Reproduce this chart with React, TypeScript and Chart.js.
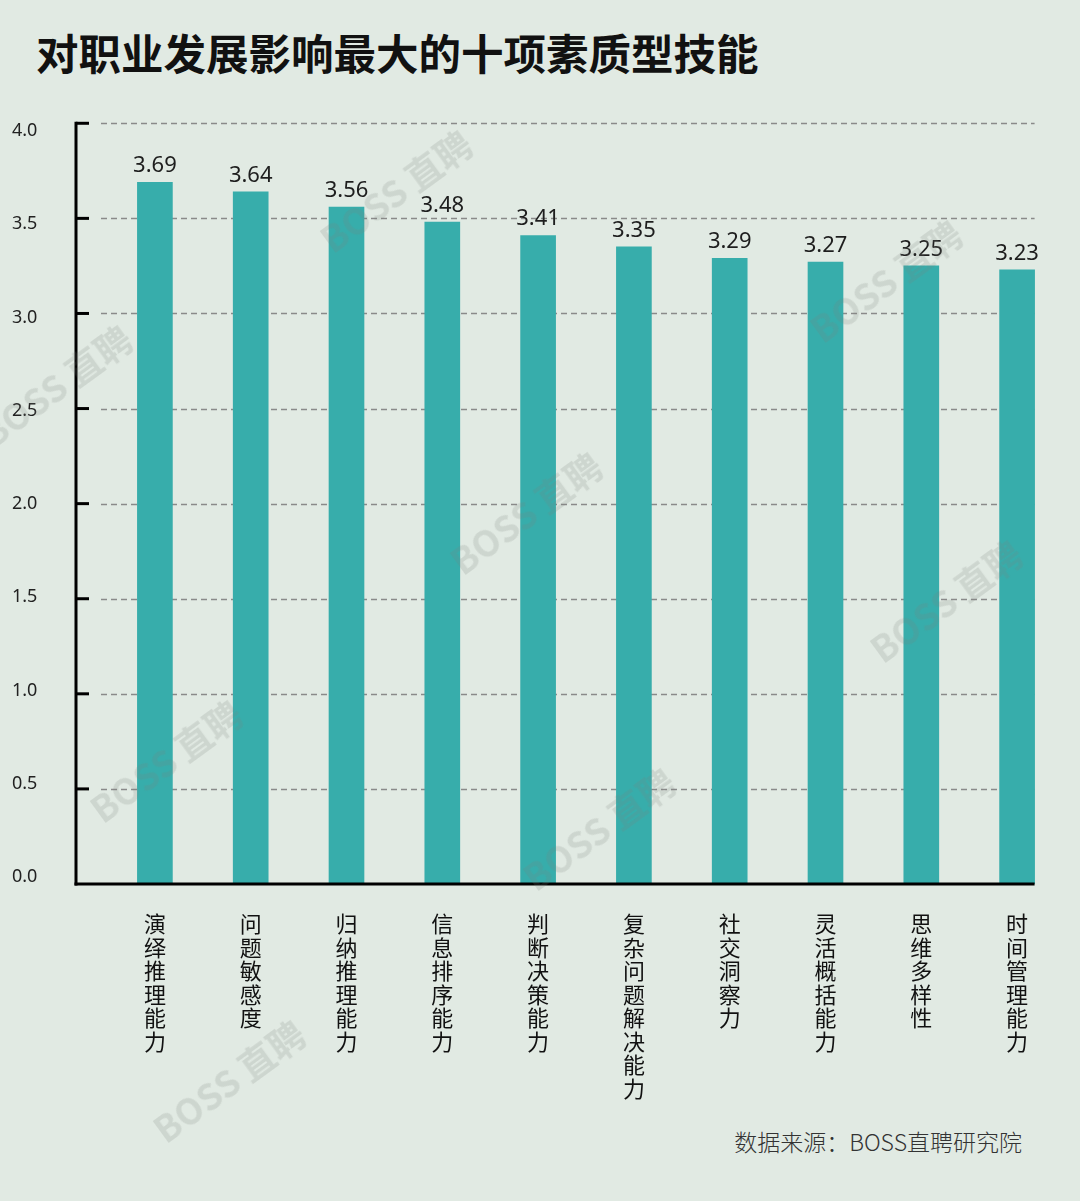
import React, { useEffect, useRef } from "react";
import { Chart, registerables } from "chart.js";

Chart.register(...registerables);

const titleText = "对职业发展影响最大的十项素质型技能";
const sourceText = "数据来源：BOSS直聘研究院";
const watermarkText = "BOSS 直聘";

const categories = [
  "演绎推理能力",
  "问题敏感度",
  "归纳推理能力",
  "信息排序能力",
  "判断决策能力",
  "复杂问题解决能力",
  "社交洞察力",
  "灵活概括能力",
  "思维多样性",
  "时间管理能力",
];
const scores = [3.69, 3.64, 3.56, 3.48, 3.41, 3.35, 3.29, 3.27, 3.25, 3.23];
const yTickValues = [0, 0.5, 1.0, 1.5, 2.0, 2.5, 3.0, 3.5, 4.0];

const watermarkSpots = [
  [395, 190],
  [55, 385],
  [525, 512],
  [885, 280],
  [945, 600],
  [165, 760],
  [598, 828],
  [228, 1080],
];

const BG = "#e1eae3";
const BAR = "#37adab";
const FONT = "'Noto Sans', 'Noto Sans CJK SC', sans-serif";
const CJK = "'Noto Sans CJK SC', 'Noto Sans', sans-serif";

const decorPlugin = {
  id: "decor",
  beforeDatasetsDraw(chart: any) {
    const { ctx } = chart;
    const y = chart.scales.y;
    const x = chart.scales.x;
    const right = x.getPixelForValue(categories.length - 1) + 17.5;
    ctx.save();
    ctx.strokeStyle = "#8a8a8a";
    ctx.lineWidth = 1.5;
    ctx.setLineDash([6, 4]);
    yTickValues.forEach((v) => {
      if (v === 0) return;
      const py = Math.round(y.getPixelForValue(v)) + 0.5;
      ctx.beginPath();
      ctx.moveTo(101, py);
      ctx.lineTo(right, py);
      ctx.stroke();
    });
    ctx.restore();
  },
  afterDatasetsDraw(chart: any) {
    const { ctx } = chart;
    const y = chart.scales.y;
    const x = chart.scales.x;
    const axisX = 76;
    const right = x.getPixelForValue(categories.length - 1) + 17.5;
    const top = y.getPixelForValue(4);
    const bottom = y.getPixelForValue(0);
    ctx.save();
    ctx.strokeStyle = "#000";
    ctx.lineWidth = 3;
    ctx.setLineDash([]);
    ctx.beginPath();
    ctx.moveTo(axisX, top - 1.5);
    ctx.lineTo(axisX, bottom + 1.5);
    ctx.stroke();
    yTickValues.forEach((v) => {
      if (v === 0) return;
      const py = y.getPixelForValue(v);
      ctx.beginPath();
      ctx.moveTo(axisX, py);
      ctx.lineTo(axisX + 13, py);
      ctx.stroke();
    });
    ctx.beginPath();
    ctx.moveTo(axisX - 1.5, bottom);
    ctx.lineTo(right, bottom);
    ctx.stroke();

    ctx.fillStyle = "#1e1e1e";
    ctx.font = `22px ${FONT}`;
    ctx.textAlign = "center";
    ctx.textBaseline = "alphabetic";
    const meta = chart.getDatasetMeta(0);
    meta.data.forEach((bar: any, i: number) => {
      ctx.fillText(scores[i].toFixed(2), bar.x, bar.y - 10);
    });
    ctx.restore();
  },
};

export default function App() {
  const ref = useRef<HTMLCanvasElement | null>(null);

  useEffect(() => {
    if (!ref.current) return;
    const chart = new Chart(ref.current, {
      type: "bar",
      data: {
        labels: categories.map((c) => c.split("")),
        datasets: [
          {
            data: scores,
            backgroundColor: BAR,
            barThickness: 35,
            yAxisID: "y",
          },
        ],
      },
      options: {
        animation: false,
        responsive: false,
        devicePixelRatio: 1,
        layout: { padding: { left: 12, right: 15, top: 21, bottom: 0 } },
        plugins: {
          legend: { display: false },
          tooltip: { enabled: false },
          title: { display: false },
        },
        scales: {
          x: {
            grid: { display: false },
            border: { display: false },
            ticks: {
              color: "#111",
              font: { family: CJK, size: 22, lineHeight: 1.07 },
              padding: 20,
              maxRotation: 0,
              autoSkip: false,
            },
            afterFit: (s: any) => {
              s.height = 226;
            },
          },
          y: {
            display: false,
            min: 0,
            max: 4.012,
          },
          yl: {
            type: "linear",
            position: "left",
            min: -0.0375,
            max: 4.054,
            grid: { display: false },
            border: { display: false },
            ticks: {
              stepSize: 0.5,
              includeBounds: false,
              crossAlign: "far",
              padding: 0,
              color: "#222",
              font: { family: FONT, size: 18 },
              callback: (v: any) => Math.abs(Number(v)).toFixed(1),
            },
            afterFit: (s: any) => {
              s.width = 95;
            },
          },
        },
      } as any,
      plugins: [decorPlugin],
    });
    return () => chart.destroy();
  }, []);

  return (
    <div
      style={{
        position: "absolute",
        left: 0,
        top: 0,
        width: 1080,
        height: 1201,
        background: BG,
        overflow: "hidden",
      }}
    >
      <div
        style={{
          position: "absolute",
          left: 36,
          top: 27,
          fontFamily: CJK,
          fontWeight: 700,
          fontSize: 42.5,
          lineHeight: "50px",
          color: "#111",
          whiteSpace: "nowrap",
        }}
      >
        {titleText}
      </div>
      <canvas
        ref={ref}
        width={1080}
        height={1010}
        style={{ position: "absolute", left: 0, top: 100, width: 1080, height: 1010 }}
      />
      <div
        style={{
          position: "absolute",
          right: 58,
          top: 1126,
          fontFamily: CJK,
          fontSize: 23,
          fontWeight: 300,
          lineHeight: "30px",
          color: "#333",
          whiteSpace: "nowrap",
        }}
      >
        {sourceText}
      </div>
      {watermarkSpots.map(([cx, cy], i) => (
        <div
          key={i}
          style={{
            position: "absolute",
            left: cx - 100,
            top: cy - 22,
            width: 200,
            height: 44,
            lineHeight: "44px",
            textAlign: "center",
            transform: "rotate(-36deg)",
            fontFamily: CJK,
            fontWeight: 700,
            fontSize: 36,
            color: "rgba(120,130,122,0.19)",
            whiteSpace: "nowrap",
            pointerEvents: "none",
          }}
        >
          {watermarkText}
        </div>
      ))}
    </div>
  );
}
